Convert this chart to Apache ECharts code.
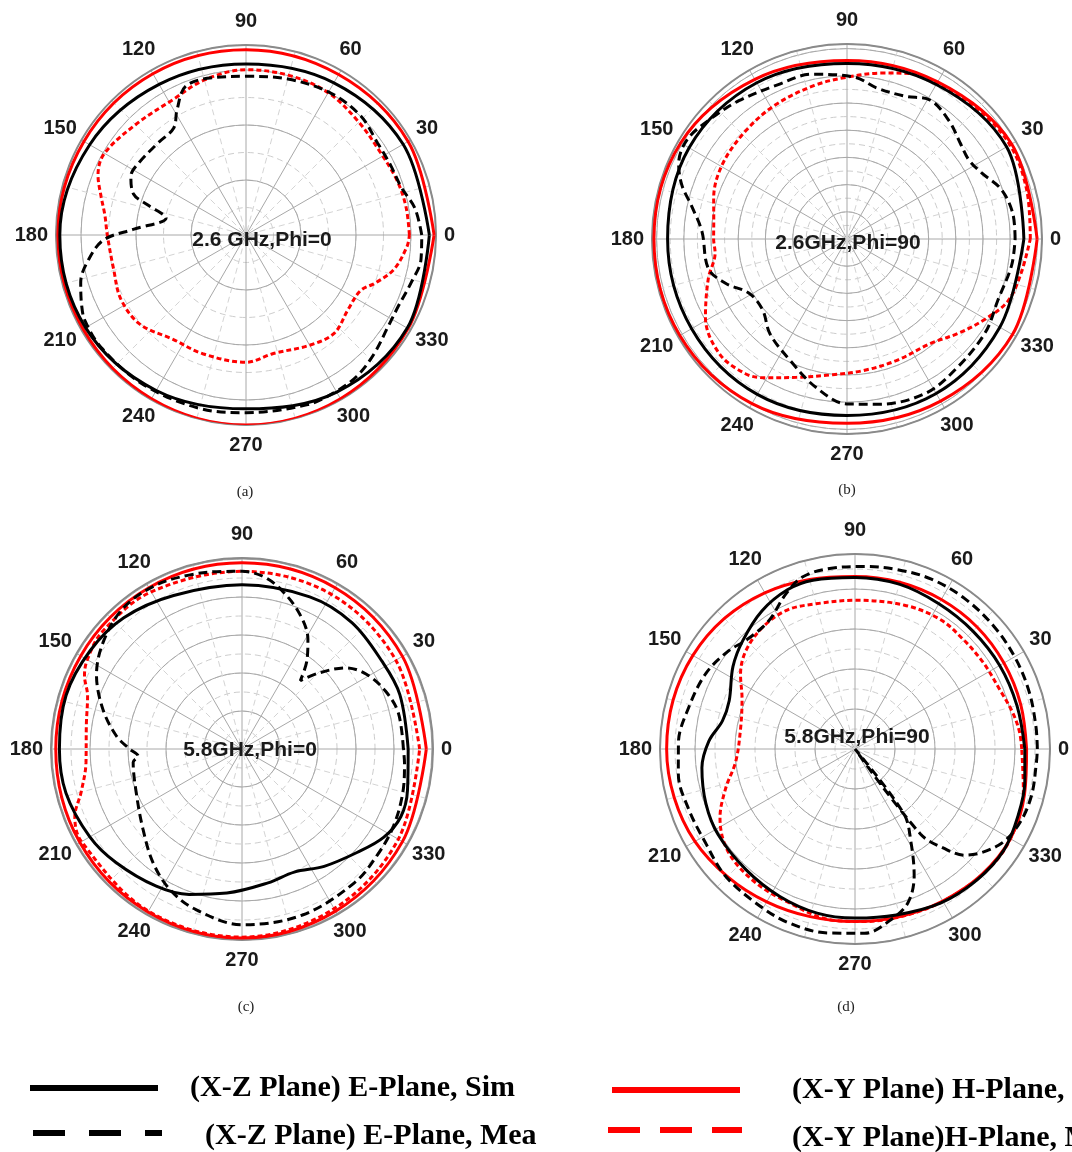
<!DOCTYPE html>
<html><head><meta charset="utf-8">
<script src="https://cdn.jsdelivr.net/npm/echarts@6/dist/echarts.min.js"></script>
<style>html,body{margin:0;padding:0;background:#fff}#c{width:1072px;height:1152px}</style>
</head><body><div id="c"></div>
<script>
// ---------- tick labels ----------
const angleTicks = [0,30,60,90,120,150,180,210,240,270,300,330];
const ang30 = [0,30,60,90,120,150,180,210,240,270,300,330,360];
const ang15 = [0,15,30,45,60,75,90,105,120,135,150,165,180,195,210,225,240,255,270,285,300,315,330,345,360];

// ---------- (a) 2.6 GHz, Phi=0 (radius as fraction of outer ring) ----------
const aHS = [0.99,0.985,0.975,0.975,0.98,0.985,0.99,0.99,0.995,1.0,0.995,0.985,0.99];
const aES = [0.965,0.955,0.925,0.90,0.915,0.95,0.98,0.975,0.945,0.915,0.955,0.98,0.965];
const aHMang = [0,10,20,32,45,60,75,90,105,118,134,150,158,165,172,180,195,207,220,235,250,270,283,300,312,324,334,340,347,356,360];
const aHM = [0.86,0.855,0.845,0.83,0.84,0.865,0.87,0.87,0.845,0.81,0.82,0.86,0.84,0.79,0.75,0.73,0.72,0.74,0.73,0.67,0.665,0.67,0.64,0.67,0.695,0.665,0.67,0.73,0.80,0.85,0.86];
const aEMang = [0,9,17,26,35,46,59,75,90,101,112,119,124,134,146,153,160,163,168,177,182,189,196,203,208,218,235,255,270,290,300,308,317,327,335,344,352,360];
const aEM = [0.925,0.90,0.855,0.845,0.845,0.87,0.87,0.85,0.835,0.845,0.845,0.75,0.68,0.67,0.68,0.68,0.63,0.54,0.43,0.59,0.75,0.84,0.905,0.94,0.96,0.965,0.955,0.945,0.935,0.95,0.95,0.945,0.92,0.89,0.885,0.905,0.93,0.925];

// ---------- (b) 2.6 GHz, Phi=90 ----------
const bHS = [0.975,0.975,0.93,0.915,0.945,0.985,0.99,0.99,0.975,0.945,0.96,0.98,0.975];
const bES = [0.907,0.945,0.915,0.90,0.925,0.935,0.92,0.92,0.92,0.905,0.915,0.905,0.907];
const bHMang = [0,15,30,45,60,68,78,90,102,118,133,149,163,172,180,186,196,209,222,233,239,250,264,277,292,309,320,330,339,349,360];
const bHM = [0.94,0.955,0.965,0.945,0.92,0.915,0.87,0.83,0.805,0.78,0.76,0.745,0.715,0.69,0.684,0.68,0.74,0.83,0.88,0.865,0.83,0.755,0.70,0.68,0.673,0.687,0.75,0.82,0.885,0.91,0.94];
const bEMang = [0,9,18,26,33,40,49,59,68,79,87,102,114,128,138,148,156,162,168,177,192,200,209,220,231,245,258,270,281,297,311,326,338,351,360];
const bEM = [0.862,0.86,0.83,0.77,0.745,0.76,0.80,0.83,0.79,0.79,0.83,0.864,0.867,0.90,0.93,0.965,0.945,0.89,0.815,0.745,0.727,0.663,0.574,0.565,0.627,0.688,0.776,0.846,0.863,0.888,0.868,0.856,0.835,0.855,0.862];

// ---------- (c) 5.8 GHz, Phi=0 ----------
const cHS = [0.965,0.97,0.975,0.975,0.975,0.975,0.975,0.98,0.985,0.99,0.98,0.97,0.965];
const cHMang = [0,30,60,90,120,140,150,155,161,171,185,195,202,210,240,270,300,330,360];
const cHM = [0.93,0.93,0.935,0.93,0.95,0.955,0.935,0.91,0.855,0.825,0.82,0.872,0.944,0.97,0.98,0.985,0.965,0.945,0.93];
const cESang = [0,19,32,49,66,90,114,132,147,163,180,194,210,222,238,250,264,281,293,305,318,328,337,346,360];
const cES = [0.87,0.874,0.865,0.877,0.872,0.86,0.88,0.925,0.947,0.963,0.956,0.95,0.92,0.888,0.847,0.81,0.758,0.714,0.70,0.75,0.81,0.874,0.904,0.893,0.87];
const cEMang = [0,13,22,31,38,45,49.5,54,59,67,76,83,90,96,107,118,130,142,153,164,174,180,184,187,202,219,232,243,254,270,290,310,322,333,345,355,360];
const cEM = [0.845,0.84,0.81,0.76,0.69,0.56,0.47,0.58,0.67,0.77,0.857,0.91,0.93,0.935,0.952,0.969,0.965,0.919,0.855,0.758,0.662,0.588,0.545,0.574,0.598,0.667,0.756,0.828,0.875,0.92,0.925,0.915,0.90,0.89,0.872,0.854,0.845];

// ---------- (d) 5.8 GHz, Phi=90 ----------
const dHS = [0.88,0.88,0.882,0.885,0.885,0.885,0.885,0.9,0.925,0.947,0.96,0.966,0.966,0.96,0.948,0.925,0.905,0.89,0.885,0.89,0.90,0.915,0.92,0.90,0.88];
const dHMang = [0,6,13,22,34,46,57,71,90,105,116,127,138,147,156,170,186,197,207,219,233,247,262,273,290,305,321,333,346,360];
const dHM = [0.855,0.848,0.83,0.803,0.793,0.79,0.795,0.78,0.763,0.771,0.793,0.784,0.753,0.70,0.634,0.596,0.615,0.694,0.777,0.837,0.854,0.858,0.885,0.886,0.894,0.906,0.923,0.916,0.89,0.855];
const dESang = [0,15,30,45,60,75,90,104,113,124,136,146,159,168,177,187,200,212,228,243,257,270,284,299,313,326,338,349,360];
const dES = [0.871,0.86,0.857,0.855,0.86,0.875,0.88,0.892,0.887,0.854,0.80,0.755,0.691,0.695,0.751,0.791,0.814,0.828,0.834,0.849,0.864,0.867,0.877,0.904,0.918,0.923,0.903,0.887,0.871];
const dEMang = [0,7,18,29,41,54,66,77,87,98,107,114,124,135,142,153,166,178,188,200,212,224,237,249,262,273,282,289,295,301,307,307.3,307.6,312,316,326,335,345,356,360];
const dEM = [0.935,0.935,0.94,0.945,0.95,0.955,0.955,0.945,0.937,0.935,0.922,0.871,0.792,0.789,0.82,0.857,0.879,0.906,0.915,0.907,0.905,0.93,0.939,0.954,0.953,0.946,0.894,0.834,0.718,0.557,0.416,0,0.55,0.688,0.784,0.885,0.924,0.936,0.933,0.935];

const titles = ['2.6 GHz,Phi=0','2.6GHz,Phi=90','5.8GHz,Phi=0','5.8GHz,Phi=90'];
const captions = ['(a)','(b)','(c)','(d)'];
const legendNames = ['(X-Z Plane) E-Plane, Sim','(X-Z Plane) E-Plane, Mea','(X-Y Plane) H-Plane, Sim','(X-Y Plane)H-Plane, Mea'];

// ---------- layout (styles / positions only) ----------
const layout = [
  {cx:246, cy:235, R:190, step:27.5/190, tx:262, ty:240, capx:245, capy:492},
  {cx:847, cy:239, R:195, step:13.6/195, tx:848, ty:243, capx:847, capy:490},
  {cx:242, cy:749, R:191, step:19/191,   tx:250, ty:750, capx:246, capy:1007},
  {cx:855, cy:749, R:195, step:20/195,   tx:857, ty:737, capx:846, capy:1007}
];
const curves = [
  {HS:[ang30,aHS], HM:[aHMang,aHM], ES:[ang30,aES], EM:[aEMang,aEM]},
  {HS:[ang30,bHS], HM:[bHMang,bHM], ES:[ang30,bES], EM:[bEMang,bEM]},
  {HS:[ang30,cHS], HM:[cHMang,cHM], ES:[cESang,cES], EM:[cEMang,cEM]},
  {HS:[ang15,dHS], HM:[dHMang,dHM], ES:[dESang,dES], EM:[dEMang,dEM]}
];
const styles = {
  HS:{color:'#ff0000', type:'solid', width:3},
  HM:{color:'#ff0000', type:[5,3], width:3},
  ES:{color:'#000000', type:'solid', width:3},
  EM:{color:'#000000', type:[9,5], width:3}
};
const seriesNames = {ES:legendNames[0], EM:legendNames[1], HS:legendNames[2], HM:legendNames[3]};

const polar = [], angleAxis = [], radiusAxis = [], series = [], graphic = [];
const labelFont = 'Liberation Sans, Arial, sans-serif';
const tickFs = 20;

layout.forEach((L, i) => {
  const p0 = 2*i, p1 = 2*i+1;
  polar.push({center:[L.cx, L.cy], radius:L.R});
  polar.push({center:[L.cx, L.cy], radius:L.R});
  angleAxis.push({
    polarIndex:p0, type:'value', min:0, max:360, interval:30, startAngle:0, clockwise:false, z:1,
    axisLine:{show:true, lineStyle:{color:'#8a8a8a', width:2}},
    axisTick:{show:false},
    axisLabel:{show:false},
    minorTick:{show:false, splitNumber:2},
    minorSplitLine:{show:true, lineStyle:{color:'#d4d4d4', width:1, type:[6,4]}},
    splitLine:{show:true, lineStyle:{color:'#a8a8a8', width:1}}
  });
  angleAxis.push({
    polarIndex:p1, type:'value', min:0, max:360, interval:30, startAngle:0, clockwise:false, z:1,
    axisLine:{show:false}, axisTick:{show:false}, axisLabel:{show:false}, splitLine:{show:false}
  });
  radiusAxis.push({
    polarIndex:p0, type:'value', min:0, max:1, interval:L.step, z:1,
    axisLine:{show:false}, axisTick:{show:false}, axisLabel:{show:false},
    splitLine:{show:true, lineStyle:{color:'#cdcdcd', width:1, type:[6,4]}}
  });
  radiusAxis.push({
    polarIndex:p1, type:'value', min:0, max:1, interval:L.step*2, z:1,
    axisLine:{show:false}, axisTick:{show:false}, axisLabel:{show:false},
    splitLine:{show:true, lineStyle:{color:'#a8a8a8', width:1}}
  });
  ['HS','HM','ES','EM'].forEach(k => {
    const [angs, vals] = curves[i][k];
    series.push({
      type:'line', name:seriesNames[k], coordinateSystem:'polar', polarIndex:p0,
      data: vals.map((r, j) => [r, angs[j]]),
      showSymbol:false, smooth:0.35, animation:false, z:5,
      lineStyle:{color:styles[k].color, type:styles[k].type, width:styles[k].width}
    });
  });
  // angle tick labels, placed just outside the ring
  angleTicks.forEach(t => {
    const th = t * Math.PI / 180, c = Math.cos(th), s = Math.sin(th);
    const w = String(t).length * 0.556 * tickFs;
    const x = L.cx + (L.R + 8 + w/2) * c;
    const y = L.cy - (L.R + (s > 0 ? 24 : 20)) * s;
    graphic.push({type:'text', z:10, style:{text:String(t), x:x, y:y, align:'center', verticalAlign:'middle',
      font:'bold ' + tickFs + 'px ' + labelFont, fill:'#1a1a1a'}});
  });
  graphic.push({type:'text', z:10, style:{
    text:titles[i], x:L.tx, y:L.ty, align:'center', verticalAlign:'middle',
    font:'bold 21px ' + labelFont, fill:'#1a1a1a'}});
  graphic.push({type:'text', z:10, style:{
    text:captions[i], x:L.capx, y:L.capy, align:'center', verticalAlign:'middle',
    font:'15px Liberation Serif, Times New Roman, serif', fill:'#222'}});
});

// ---------- legend (drawn as graphic) ----------
const legendFont = 'bold 30px Liberation Serif, Times New Roman, serif';
graphic.push({type:'line', shape:{x1:30, y1:1088, x2:158, y2:1088}, style:{stroke:'#000', lineWidth:6}});
graphic.push({type:'line', shape:{x1:33, y1:1133, x2:162, y2:1133}, style:{stroke:'#000', lineWidth:6, lineDash:[32,24]}});
graphic.push({type:'line', shape:{x1:612, y1:1090, x2:740, y2:1090}, style:{stroke:'#ff0000', lineWidth:6}});
graphic.push({type:'line', shape:{x1:608, y1:1130, x2:742, y2:1130}, style:{stroke:'#ff0000', lineWidth:6, lineDash:[32,20]}});
graphic.push({type:'text', style:{text:legendNames[0], x:190, y:1088, verticalAlign:'middle', font:legendFont, fill:'#000'}});
graphic.push({type:'text', style:{text:legendNames[1], x:205, y:1136, verticalAlign:'middle', font:legendFont, fill:'#000'}});
graphic.push({type:'text', style:{text:legendNames[2], x:792, y:1090, verticalAlign:'middle', font:legendFont, fill:'#000'}});
graphic.push({type:'text', style:{text:legendNames[3], x:792, y:1138, verticalAlign:'middle', font:legendFont, fill:'#000'}});

const chart = echarts.init(document.getElementById('c'), null, {renderer:'canvas'});
chart.setOption({
  backgroundColor:'#ffffff',
  animation:false,
  polar, angleAxis, radiusAxis, series, graphic
});
</script>
</body></html>
